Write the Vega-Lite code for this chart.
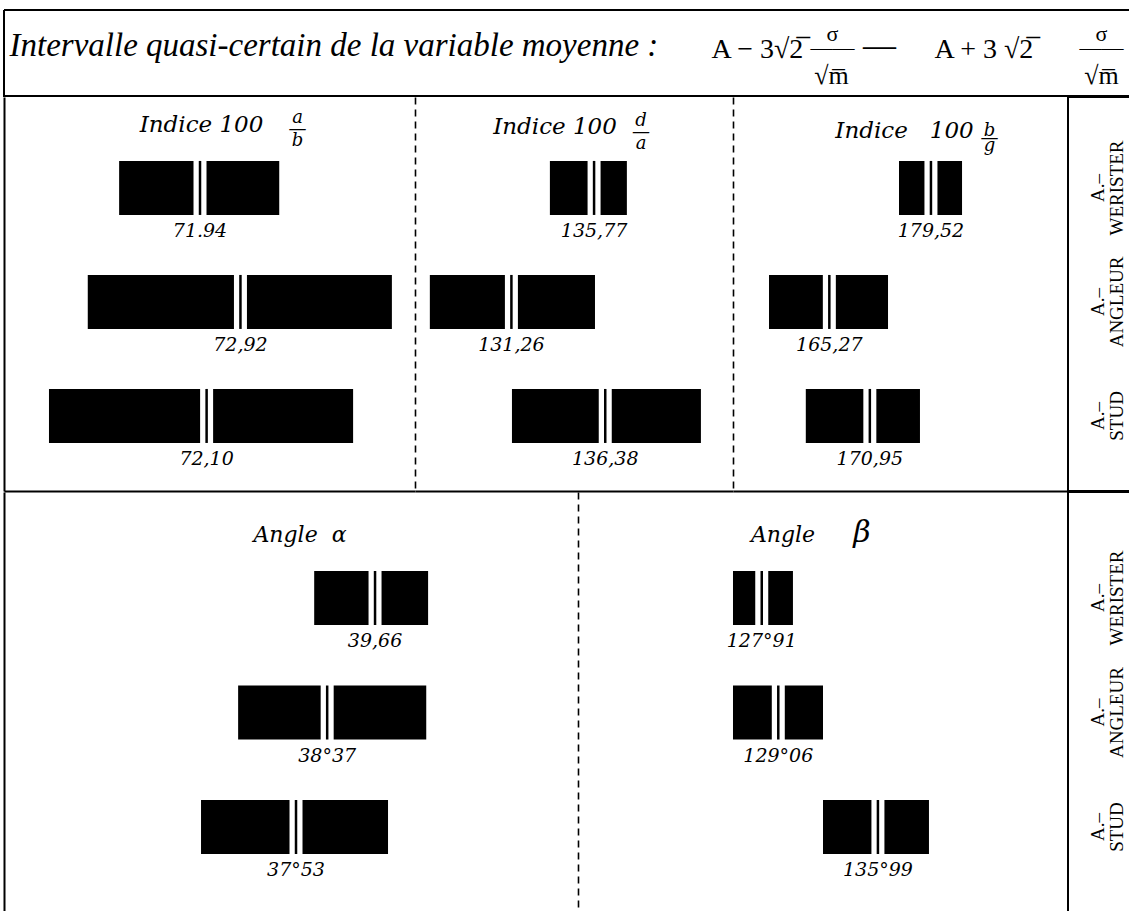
{
  "$schema": "https://vega.github.io/schema/vega-lite/v6.json",
  "padding": {"left": 3, "top": 9, "right": 0, "bottom": 0},
  "spacing": -2,
  "config": {
    "view": {"stroke": null},
    "axis": {"labels": false, "ticks": false, "grid": false, "domainColor": "black", "domainWidth": 2},
    "text": {"color": "black"}
  },
  "datasets": {
    "bars": [
      {"panel": "ab", "group": "WERISTER", "mean": 71.94, "lo": 69.98, "hi": 73.86, "label": "71.94"},
      {"panel": "ab", "group": "ANGLEUR", "mean": 72.92, "lo": 69.22, "hi": 76.59, "label": "72,92"},
      {"panel": "ab", "group": "STUD", "mean": 72.10, "lo": 68.28, "hi": 75.65, "label": "72,10"},
      {"panel": "da", "group": "WERISTER", "mean": 135.77, "lo": 133.36, "hi": 137.56, "label": "135,77"},
      {"panel": "da", "group": "ANGLEUR", "mean": 131.26, "lo": 126.81, "hi": 135.82, "label": "131,26"},
      {"panel": "da", "group": "STUD", "mean": 136.38, "lo": 131.29, "hi": 141.60, "label": "136,38"},
      {"panel": "bg", "group": "WERISTER", "mean": 179.52, "lo": 175.04, "hi": 183.88, "label": "179,52"},
      {"panel": "bg", "group": "ANGLEUR", "mean": 165.27, "lo": 156.81, "hi": 173.50, "label": "165,27"},
      {"panel": "bg", "group": "STUD", "mean": 170.95, "lo": 161.97, "hi": 177.98, "label": "170,95"},
      {"panel": "alpha", "group": "WERISTER", "mean": 39.66, "lo": 38.02, "hi": 41.09, "label": "39,66"},
      {"panel": "alpha", "group": "ANGLEUR", "mean": 38.37, "lo": 35.97, "hi": 41.04, "label": "38°37"},
      {"panel": "alpha", "group": "STUD", "mean": 37.53, "lo": 34.97, "hi": 40.01, "label": "37°53"},
      {"panel": "beta", "group": "WERISTER", "mean": 127.91, "lo": 125.91, "hi": 130.08, "label": "127°91"},
      {"panel": "beta", "group": "ANGLEUR", "mean": 129.06, "lo": 125.91, "hi": 132.17, "label": "129°06"},
      {"panel": "beta", "group": "STUD", "mean": 135.99, "lo": 132.17, "hi": 139.54, "label": "135°99"}
    ],
    "rows": [
      {"group": "WERISTER", "txt": ["A.–", "WERISTER"]},
      {"group": "ANGLEUR", "txt": ["A.–", "ANGLEUR"]},
      {"group": "STUD", "txt": ["A.–", "STUD"]}
    ]
  },
  "vconcat": [
    {
      "width": 1125, "height": 86,
      "view": {"stroke": "black", "strokeWidth": 2, "strokeDash": [1125, 86, 1211, 0]},
      "data": {"values": [{}]},
      "layer": [
        {"mark": {"type": "text", "text": "Intervalle quasi-certain de la variable moyenne :", "align": "left", "baseline": "alphabetic", "font": "Liberation Serif", "fontStyle": "italic", "fontSize": 33, "dx": -557, "dy": 3}},
        {"mark": {"type": "text", "text": "A \u2212 3\u221a2\u0305", "align": "left", "baseline": "alphabetic", "font": "Liberation Serif", "fontSize": 28, "dx": 145, "dy": 5}},
        {"mark": {"type": "text", "text": ["σ", "——"], "lineHeight": 14, "align": "center", "baseline": "alphabetic", "font": "Liberation Serif", "fontSize": 22, "dx": 266, "dy": -12}},
        {"mark": {"type": "text", "text": "\u221am\u0305", "align": "center", "baseline": "alphabetic", "font": "Liberation Serif", "fontSize": 26, "dx": 265, "dy": 31}},
        {"mark": {"type": "text", "text": "—", "align": "center", "baseline": "alphabetic", "font": "Liberation Serif", "fontSize": 33, "dx": 313, "dy": 3}},
        {"mark": {"type": "text", "text": "A + 3 \u221a2\u0305", "align": "left", "baseline": "alphabetic", "font": "Liberation Serif", "fontSize": 28, "dx": 368, "dy": 5}},
        {"mark": {"type": "text", "text": ["σ", "——"], "lineHeight": 14, "align": "center", "baseline": "alphabetic", "font": "Liberation Serif", "fontSize": 22, "dx": 535, "dy": -12}},
        {"mark": {"type": "text", "text": "\u221am\u0305", "align": "center", "baseline": "alphabetic", "font": "Liberation Serif", "fontSize": 26, "dx": 535, "dy": 31}}
      ]
    },
    {
      "spacing": 0,
      "bounds": "flush",
      "hconcat": [
        {
          "width": 411, "height": 394,
          "layer": [
            {
              "data": {"name": "bars"},
              "transform": [{"filter": "datum.panel === 'ab'"}],
              "encoding": {"y": {"field": "group", "type": "nominal", "scale": {"type": "band", "domain": ["WERISTER", "ANGLEUR", "STUD"], "paddingInner": 0.526, "paddingOuter": 0.491, "align": 0.571}, "axis": {"title": null}}},
              "layer": [
                {"mark": {"type": "bar", "color": "black", "opacity": 1}, "encoding": {"x": {"field": "lo", "type": "quantitative", "scale": {"domain": [67.19, 77.15], "nice": false, "zero": false}, "axis": {"title": null}}, "x2": {"field": "hi"}}},
                {"mark": {"type": "tick", "color": "white", "opacity": 1, "thickness": 13, "size": 58}, "encoding": {"x": {"field": "mean", "type": "quantitative", "scale": {"domain": [67.19, 77.15], "nice": false, "zero": false}, "axis": {"title": null}}}},
                {"mark": {"type": "tick", "color": "black", "opacity": 1, "thickness": 2.5, "size": 54}, "encoding": {"x": {"field": "mean", "type": "quantitative", "scale": {"domain": [67.19, 77.15], "nice": false, "zero": false}, "axis": {"title": null}}}},
                {"mark": {"type": "text", "font": "DejaVu Serif", "fontStyle": "italic", "fontSize": 19, "baseline": "middle", "dy": 43}, "encoding": {"x": {"field": "mean", "type": "quantitative", "scale": {"domain": [67.19, 77.15], "nice": false, "zero": false}, "axis": {"title": null}}, "text": {"field": "label"}}}
              ]
            },
            {"data": {"values": [{}]}, "mark": {"type": "text", "text": "Indice 100", "font": "DejaVu Serif", "fontStyle": "italic", "fontSize": 23, "align": "center", "baseline": "alphabetic", "dx": -8, "dy": -162}},
            {"data": {"values": [{}]}, "mark": {"type": "text", "text": ["a", "—", "b"], "lineHeight": 11.5, "font": "DejaVu Serif", "fontStyle": "italic", "fontSize": 18, "align": "center", "baseline": "alphabetic", "dx": 88, "dy": -171}}
          ]
        },
        {
          "width": 318, "height": 394,
          "layer": [
            {
              "data": {"name": "bars"},
              "transform": [{"filter": "datum.panel === 'da'"}],
              "encoding": {"y": {"field": "group", "type": "nominal", "scale": {"type": "band", "domain": ["WERISTER", "ANGLEUR", "STUD"], "paddingInner": 0.526, "paddingOuter": 0.491, "align": 0.571}, "axis": {"title": null, "domainDash": [7, 5], "domainWidth": 1.6}}},
              "layer": [
                {"mark": {"type": "bar", "color": "black", "opacity": 1}, "encoding": {"x": {"field": "lo", "type": "quantitative", "scale": {"domain": [126.0, 143.35], "nice": false, "zero": false}, "axis": {"title": null}}, "x2": {"field": "hi"}}},
                {"mark": {"type": "tick", "color": "white", "opacity": 1, "thickness": 13, "size": 58}, "encoding": {"x": {"field": "mean", "type": "quantitative", "scale": {"domain": [126.0, 143.35], "nice": false, "zero": false}, "axis": {"title": null}}}},
                {"mark": {"type": "tick", "color": "black", "opacity": 1, "thickness": 2.5, "size": 54}, "encoding": {"x": {"field": "mean", "type": "quantitative", "scale": {"domain": [126.0, 143.35], "nice": false, "zero": false}, "axis": {"title": null}}}},
                {"mark": {"type": "text", "font": "DejaVu Serif", "fontStyle": "italic", "fontSize": 19, "baseline": "middle", "dy": 43}, "encoding": {"x": {"field": "mean", "type": "quantitative", "scale": {"domain": [126.0, 143.35], "nice": false, "zero": false}, "axis": {"title": null}}, "text": {"field": "label"}}}
              ]
            },
            {"data": {"values": [{}]}, "mark": {"type": "text", "text": "Indice 100", "font": "DejaVu Serif", "fontStyle": "italic", "fontSize": 23, "align": "center", "baseline": "alphabetic", "dx": -19, "dy": -160}},
            {"data": {"values": [{}]}, "mark": {"type": "text", "text": ["d", "—", "a"], "lineHeight": 11.5, "font": "DejaVu Serif", "fontStyle": "italic", "fontSize": 18, "align": "center", "baseline": "alphabetic", "dx": 67, "dy": -168}}
          ]
        },
        {
          "width": 335, "height": 394,
          "layer": [
            {
              "data": {"name": "bars"},
              "transform": [{"filter": "datum.panel === 'bg'"}],
              "encoding": {"y": {"field": "group", "type": "nominal", "scale": {"type": "band", "domain": ["WERISTER", "ANGLEUR", "STUD"], "paddingInner": 0.526, "paddingOuter": 0.491, "align": 0.571}, "axis": {"title": null, "domainDash": [7, 5], "domainWidth": 1.6}}},
              "layer": [
                {"mark": {"type": "bar", "color": "black", "opacity": 1}, "encoding": {"x": {"field": "lo", "type": "quantitative", "scale": {"domain": [151.76, 198.74], "nice": false, "zero": false}, "axis": {"title": null}}, "x2": {"field": "hi"}}},
                {"mark": {"type": "tick", "color": "white", "opacity": 1, "thickness": 13, "size": 58}, "encoding": {"x": {"field": "mean", "type": "quantitative", "scale": {"domain": [151.76, 198.74], "nice": false, "zero": false}, "axis": {"title": null}}}},
                {"mark": {"type": "tick", "color": "black", "opacity": 1, "thickness": 2.5, "size": 54}, "encoding": {"x": {"field": "mean", "type": "quantitative", "scale": {"domain": [151.76, 198.74], "nice": false, "zero": false}, "axis": {"title": null}}}},
                {"mark": {"type": "text", "font": "DejaVu Serif", "fontStyle": "italic", "fontSize": 19, "baseline": "middle", "dy": 43}, "encoding": {"x": {"field": "mean", "type": "quantitative", "scale": {"domain": [151.76, 198.74], "nice": false, "zero": false}, "axis": {"title": null}}, "text": {"field": "label"}}}
              ]
            },
            {"data": {"values": [{}]}, "mark": {"type": "text", "text": "Indice\u00a0\u00a0\u00a0100", "font": "DejaVu Serif", "fontStyle": "italic", "fontSize": 23, "align": "center", "baseline": "alphabetic", "dx": 4, "dy": -156}},
            {"data": {"values": [{}]}, "mark": {"type": "text", "text": ["b", "—", "g"], "lineHeight": 7.5, "font": "DejaVu Serif", "fontStyle": "italic", "fontSize": 18, "align": "center", "baseline": "alphabetic", "dx": 89, "dy": -158}}
          ]
        },
        {
          "width": 61, "height": 394,
          "view": {"stroke": "black", "strokeWidth": 2, "strokeDash": [61, 394, 455, 0]},
          "data": {"name": "rows"},
          "mark": {"type": "text", "angle": 270, "lineHeight": 19, "font": "Liberation Serif", "fontSize": 19, "align": "center", "baseline": "middle", "dy": -1},
          "encoding": {
            "y": {"field": "group", "type": "nominal", "scale": {"type": "band", "domain": ["WERISTER", "ANGLEUR", "STUD"], "paddingInner": 0.526, "paddingOuter": 0.491, "align": 0.571}, "axis": null},
            "text": {"field": "txt"}
          }
        }
      ]
    },
    {
      "spacing": 0,
      "bounds": "flush",
      "hconcat": [
        {
          "width": 574, "height": 419,
          "layer": [
            {
              "data": {"name": "bars"},
              "transform": [{"filter": "datum.panel === 'alpha'"}],
              "encoding": {"y": {"field": "group", "type": "nominal", "scale": {"type": "band", "domain": ["WERISTER", "ANGLEUR", "STUD"], "paddingInner": 0.528, "paddingOuter": 0.5937, "align": 0.581}, "axis": {"title": null}}},
              "layer": [
                {"mark": {"type": "bar", "color": "black", "opacity": 1}, "encoding": {"x": {"field": "lo", "type": "quantitative", "scale": {"domain": [29.66, 45.13], "nice": false, "zero": false}, "axis": null}, "x2": {"field": "hi"}}},
                {"mark": {"type": "tick", "color": "white", "opacity": 1, "thickness": 13, "size": 58}, "encoding": {"x": {"field": "mean", "type": "quantitative", "scale": {"domain": [29.66, 45.13], "nice": false, "zero": false}, "axis": null}}},
                {"mark": {"type": "tick", "color": "black", "opacity": 1, "thickness": 2.5, "size": 54}, "encoding": {"x": {"field": "mean", "type": "quantitative", "scale": {"domain": [29.66, 45.13], "nice": false, "zero": false}, "axis": null}}},
                {"mark": {"type": "text", "font": "DejaVu Serif", "fontStyle": "italic", "fontSize": 19, "baseline": "middle", "dy": 43}, "encoding": {"x": {"field": "mean", "type": "quantitative", "scale": {"domain": [29.66, 45.13], "nice": false, "zero": false}, "axis": null}, "text": {"field": "label"}}}
              ]
            },
            {"data": {"values": [{}]}, "mark": {"type": "text", "text": "Angle\u00a0\u00a0α", "font": "DejaVu Serif", "fontStyle": "italic", "fontSize": 22, "align": "center", "baseline": "alphabetic", "dx": 9, "dy": -160}}
          ]
        },
        {
          "width": 490, "height": 419,
          "layer": [
            {
              "data": {"name": "bars"},
              "transform": [{"filter": "datum.panel === 'beta'"}],
              "encoding": {"y": {"field": "group", "type": "nominal", "scale": {"type": "band", "domain": ["WERISTER", "ANGLEUR", "STUD"], "paddingInner": 0.528, "paddingOuter": 0.5937, "align": 0.581}, "axis": {"title": null, "domainDash": [7, 5], "domainWidth": 1.6}}},
              "layer": [
                {"mark": {"type": "bar", "color": "black", "opacity": 1}, "encoding": {"x": {"field": "lo", "type": "quantitative", "scale": {"domain": [115.13, 149.21], "nice": false, "zero": false}, "axis": null}, "x2": {"field": "hi"}}},
                {"mark": {"type": "tick", "color": "white", "opacity": 1, "thickness": 13, "size": 58}, "encoding": {"x": {"field": "mean", "type": "quantitative", "scale": {"domain": [115.13, 149.21], "nice": false, "zero": false}, "axis": null}}},
                {"mark": {"type": "tick", "color": "black", "opacity": 1, "thickness": 2.5, "size": 54}, "encoding": {"x": {"field": "mean", "type": "quantitative", "scale": {"domain": [115.13, 149.21], "nice": false, "zero": false}, "axis": null}}},
                {"mark": {"type": "text", "font": "DejaVu Serif", "fontStyle": "italic", "fontSize": 19, "baseline": "middle", "dy": 43}, "encoding": {"x": {"field": "mean", "type": "quantitative", "scale": {"domain": [115.13, 149.21], "nice": false, "zero": false}, "axis": null}, "text": {"field": "label"}}}
              ]
            },
            {"data": {"values": [{}]}, "mark": {"type": "text", "text": "Angle", "font": "DejaVu Serif", "fontStyle": "italic", "fontSize": 22, "align": "center", "baseline": "alphabetic", "dx": -40, "dy": -160}},
            {"data": {"values": [{}]}, "mark": {"type": "text", "text": "β", "font": "DejaVu Serif", "fontStyle": "italic", "fontSize": 30, "align": "center", "baseline": "alphabetic", "dx": 39, "dy": -160}}
          ]
        },
        {
          "width": 61, "height": 419,
          "view": {"stroke": "black", "strokeWidth": 2, "strokeDash": [61, 480, 419, 0]},
          "data": {"name": "rows"},
          "mark": {"type": "text", "angle": 270, "lineHeight": 19, "font": "Liberation Serif", "fontSize": 19, "align": "center", "baseline": "middle", "dy": -1},
          "encoding": {
            "y": {"field": "group", "type": "nominal", "scale": {"type": "band", "domain": ["WERISTER", "ANGLEUR", "STUD"], "paddingInner": 0.528, "paddingOuter": 0.5937, "align": 0.581}, "axis": null},
            "text": {"field": "txt"}
          }
        }
      ]
    }
  ]
}
